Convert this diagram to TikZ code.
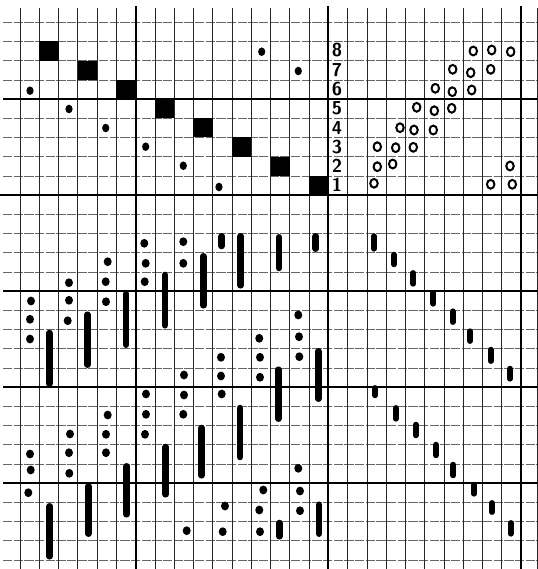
\documentclass[tikz,border=0pt]{standalone}
\begin{document}
\begin{tikzpicture}[x=0.75pt,y=-0.75pt,
  vline/.style={black!85, line width=0.5pt},
  hline/.style={black!60, line width=0.45pt, dash pattern=on 7pt off 1pt},
  thickv/.style={black, line width=1.5pt},
  thickh/.style={black, line width=1.3pt},
  dot/.style={fill=black},
  bar/.style={black, line width=4.9pt, line cap=round},
  tbar/.style={black, line width=4.4pt, line cap=round},
  ring/.style={draw=black, line width=1.5pt},
  lbl/.style={font=\sffamily\bfseries\fontsize{14}{14}\selectfont, inner sep=0pt}]
\useasboundingbox (0,0) rectangle (538,569);
% grid
\foreach \j in {-4,...,24} \draw[hline] (3,{99+19.2*\j}) -- (538,{99+19.2*\j});
\foreach \k in {0,...,26} \draw[vline] ({20+19.27*\k},8) -- ({20+19.27*\k},569);
\draw[vline] (537,8) -- (537,569);
\draw[thickh, line width=0.9pt] (3,99) -- (538,99);
\draw[thickh, line width=1.9pt] (0,195) -- (538,195);
\foreach \y in {291,387,483} \draw[thickh] (3,\y) -- (538,\y);
\foreach \k in {6,16,26} \draw[thickv] ({20+19.27*\k},6) -- ({20+19.27*\k},569);
% threading squares
\foreach \c/\r in {1/8,3/7,5/6,7/5,9/4,11/3,13/2,15/1}
  \fill ({20+19.27*\c},{99+19.2*(5-\r)}) rectangle ({20+19.27*(\c+1)},{99+19.2*(6-\r)});
% threading dots
\foreach \x/\y in {30/90.7,69/109,105.7/128,145.7/146.7,183.3/165.7,219/187,261.7/51.7,298.3/71}
  \fill[dot] (\x,\y) ellipse [x radius=2.7pt, y radius=3.2pt];
% shaft numbers
\foreach \n/\y in {8/50.5,7/70,6/89,5/108,4/128,3/147,2/166,1/185}
  \node[lbl] (n\n) at (337,\y) {\n};
% tie-up rings
\foreach \x/\y in {374/183.3,490.7/184.3,512.3/184.3,
                   377.3/166.7,392.7/164,510/166,
                   377.3/146.7,395.7/147.7,413.3/147.3,
                   400/127.7,414/130,433.3/130,
                   416.7/107.3,434.3/110.7,451.7/108.3,
                   435.3/88.3,452.3/91.7,471.7/90,
                   452.7/69.3,470.7/72.7,490.7/69.3,
                   473.3/51,491.7/50,510.7/51.7}
  \draw[ring] (\x,\y) ellipse [x radius=2.8pt, y radius=3.3pt];
% treadling
\foreach \x/\a/\b in {374/233.3/251.7,394/251.7/267.3,413.3/270/286.7,433.3/290/306.7,
                      452.7/308.3/325,470/328.3/344,490.7/346.7/364,510/365.7/381.7,
                      375/385/398.3,395.7/405/421.7,415.7/421.7/438.3,436/441.7/458.3,
                      453.3/461.7/478.3,474/481.7/496.7,491.7/500/515,510.7/520/536.7}
  \draw[tbar] (\x,{\a+3}) -- (\x,{\b-3});
% drawdown bars
\foreach \x/\a/\b in {49.3/330/386.7,87.3/311.7/367.7,126/290.7/347.7,165/272/328.3,
                      203.3/253.3/308.3,221.7/233.3/249,240.7/233.3/288.3,279/234.3/271,
                      315.7/233.3/251.7,318.3/348.3/401.7,278.3/366.7/421.7,
                      49.7/503.3/559.3,88.3/483.3/536.7,126.7/463.3/517.3,165.7/444/497.3,
                      201.7/425/478.3,240/405/460,279.3/520/539.3,319/501.7/536.7}
  \draw[bar] (\x,{\a+3}) -- (\x,{\b-3});
% drawdown dots
\foreach \x/\y in {31/301,30/319.3,30/339,69/282.7,69/300.3,67.7/320.7,
                   107.7/261.7,105.7/281.7,106/301.7,144.3/243.3,145.7/263.3,144.7/281.7,
                   183.3/241.7,183.3/263.3,184/375,221/357.3,221/376,
                   259.3/338.3,260/357.3,260/377.3,298.3/315,299/336.7,299.3/356.7,
                   30/454,30.7/470,28.3/492.7,70/434,69/452.7,69.3/473.3,
                   107.7/415,106/434.3,106/452.7,146/394,146/414.3,145/434.3,
                   184/395,183.3/414.3,186.7/530.7,221.7/394,225/506,222.7/531.7,
                   263.3/490,259.3/510,260/531.7,298.3/468.3,300/491,300/510.7}
  \fill[dot] (\x,\y) ellipse [x radius=3pt, y radius=3.3pt];
\end{tikzpicture}
\end{document}
